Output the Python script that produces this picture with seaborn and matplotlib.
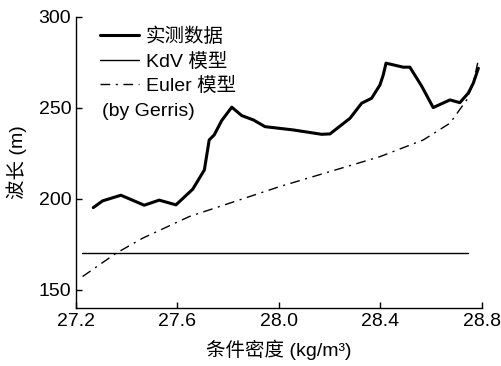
import numpy as np
import pandas as pd
import seaborn as sns
import matplotlib.pyplot as plt

# measured wavelength (实测数据)
meas_x = [27.268, 27.305, 27.377, 27.469, 27.528, 27.594, 27.660, 27.706, 27.725, 27.745,
          27.774, 27.814, 27.853, 27.899, 27.945, 28.056, 28.168, 28.201, 28.280, 28.326,
          28.365, 28.398, 28.411, 28.422, 28.490, 28.516, 28.562, 28.608, 28.674, 28.713,
          28.746, 28.766, 28.786]
meas_y = [195.2, 198.9, 202.0, 196.5, 199.3, 196.7, 205.3, 215.9, 232.4, 235.2,
          243.0, 250.4, 245.8, 243.4, 239.7, 237.9, 235.5, 235.7, 244.3, 252.6,
          255.3, 262.6, 268.1, 274.6, 272.4, 272.4, 262.1, 250.2, 254.4, 252.9,
          258.1, 263.6, 271.8]

# KdV model
kdv_x = [27.225, 28.745]
kdv_y = [170.0, 170.0]

# Euler model (by Gerris)
euler_x = [27.226, 27.358, 27.463, 27.647, 28.004, 28.201, 28.398, 28.569, 28.674,
           28.740, 28.766, 28.788]
euler_y = [157.3, 170.1, 178.4, 190.3, 206.8, 215.0, 223.2, 232.4, 241.6,
           254.4, 263.6, 277.8]

xticks = [27.2, 27.6, 28.0, 28.4, 28.8]
yticks = [150, 200, 250, 300]

sns.set_style("ticks")
plt.rcParams['font.family'] = ['Liberation Sans', 'Noto Sans CJK SC']
plt.rcParams['xtick.direction'] = 'in'
plt.rcParams['ytick.direction'] = 'in'
plt.rcParams['text.color'] = 'black'
plt.rcParams['axes.labelcolor'] = 'black'

fig = plt.figure(figsize=(5.02, 3.66), dpi=100)
ax = fig.add_axes([0.1514, 0.1585, 0.8086, 0.7951])

sns.lineplot(x=meas_x, y=meas_y, ax=ax, color='black', lw=2.2, sort=False, label='实测数据')
sns.lineplot(x=kdv_x, y=kdv_y, ax=ax, color='black', lw=1.0, label='KdV 模型')
sns.lineplot(x=euler_x, y=euler_y, ax=ax, color='black', lw=1.0,
             linestyle=(0, (7, 4, 1.5, 4)), label='Euler 模型')

ax.set_xlim(27.2, 28.8)
ax.set_ylim(140, 300)
ax.set_xticks(xticks)
ax.set_xticklabels(['27.2', '27.6', '28.0', '28.4', '28.8'])
ax.set_yticks(yticks)
ax.tick_params(labelsize=14, length=4, width=1, colors='black')
sns.despine(ax=ax)
for s in ['left', 'bottom']:
    ax.spines[s].set_linewidth(1.0)
    ax.spines[s].set_color('black')

ax.set_xlabel('条件密度 (kg/m³)', fontsize=14, labelpad=7)
ax.set_ylabel('波长 (m)', fontsize=14, labelpad=8)

leg = ax.legend(loc='upper left', frameon=False, fontsize=14, handlelength=2.0,
                handletextpad=0.35, labelspacing=0.33, borderaxespad=0.0,
                bbox_to_anchor=(0.04, 0.99))
for t in leg.get_texts():
    t.set_color('black')
ax.text(0.063, 0.675, '(by Gerris)', transform=ax.transAxes, fontsize=14, va='center')

plt.savefig('out.png', dpi=100)
